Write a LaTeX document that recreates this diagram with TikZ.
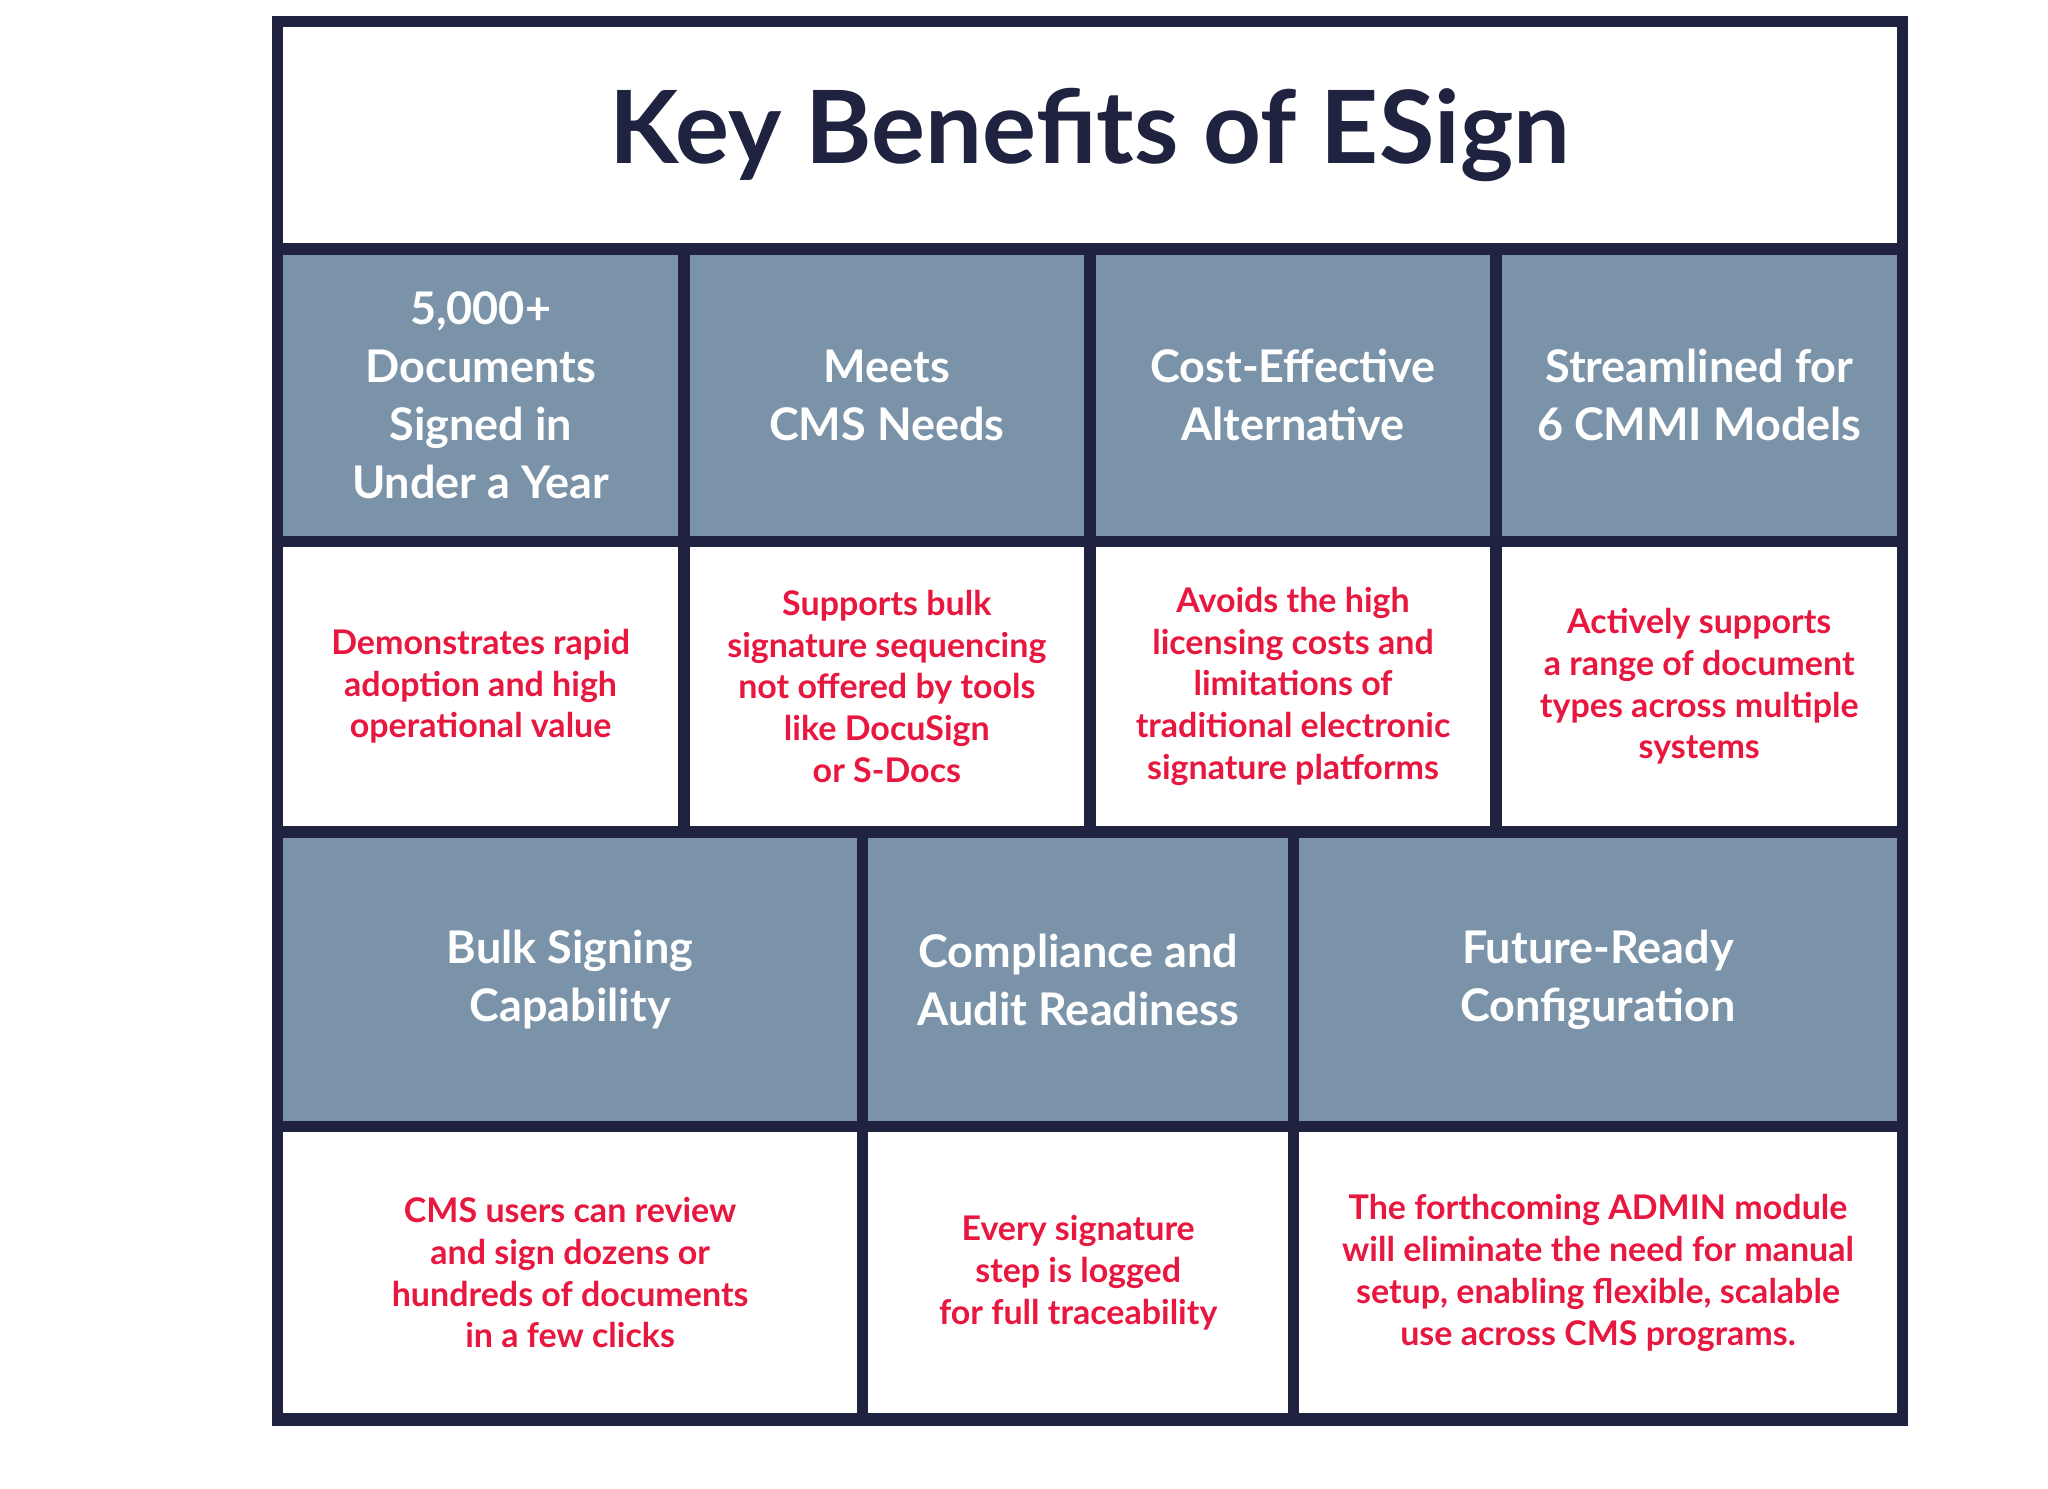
\documentclass[tikz,border=0pt]{standalone}
\usepackage{fontspec}
\setmainfont{Lato}
\definecolor{navy}{HTML}{1F2340}
\definecolor{steel}{HTML}{7B93A9}
\definecolor{accent}{HTML}{E8173F}
\begin{document}
\begin{tikzpicture}[x=0.01cm,y=-0.01cm,
  hd/.style={fill=steel,inner sep=0,align=center,text=white,font=\fontsize{9.8}{12.6}\selectfont\bfseries},
  bd/.style={fill=white,inner sep=0,align=center,text=accent,font=\fontsize{7.4}{9.1}\selectfont\bfseries}]
\useasboundingbox (0,0) rectangle (1568,1140);
\fill[navy] (208,12) rectangle (1461,1092);
\node[fill=white,inner sep=0,minimum width=12.35cm,minimum height=1.65cm,font=\fontsize{22}{26}\selectfont\bfseries,text=navy] (title) at (834.5,103.5) {Key Benefits of ESign};
% row 1 headers
\node[hd,minimum width=3.02cm,minimum height=2.15cm] (h1) at (368,302.5) {5,000+\\Documents\\Signed in\\Under a Year};
\node[hd,minimum width=3.02cm,minimum height=2.15cm] (h2) at (679,302.5) {Meets\\CMS Needs};
\node[hd,minimum width=3.02cm,minimum height=2.15cm] (h3) at (990,302.5) {Cost-Effective\\Alternative};
\node[hd,minimum width=3.02cm,minimum height=2.15cm] (h4) at (1301,302.5) {Streamlined for\\6 CMMI Models};
% row 1 bodies
\node[bd,minimum width=3.02cm,minimum height=2.13cm] (b1) at (368,525.5) {Demonstrates rapid\\adoption and high\\operational value};
\node[bd,minimum width=3.02cm,minimum height=2.13cm] (b2) at (679,525.5) {Supports bulk\\signature sequencing\\not offered by tools\\like DocuSign\\or S-Docs};
\node[bd,minimum width=3.02cm,minimum height=2.13cm] (b3) at (990,525.5) {Avoids the high\\licensing costs and\\limitations of\\traditional electronic\\signature platforms};
\node[bd,minimum width=3.02cm,minimum height=2.13cm] (b4) at (1301,525.5) {Actively supports\\a range of document\\types across multiple\\systems};
% row 2 headers
\node[hd,minimum width=4.39cm,minimum height=2.16cm] (h5) at (436.5,750) {Bulk Signing\\Capability};
\node[hd,minimum width=3.21cm,minimum height=2.16cm] (h6) at (825.5,750) {Compliance and\\Audit Readiness};
\node[hd,minimum width=4.57cm,minimum height=2.16cm] (h7) at (1223.5,750) {Future-Ready\\Configuration};
% row 2 bodies
\node[bd,minimum width=4.39cm,minimum height=2.15cm] (b5) at (436.5,974.5) {CMS users can review\\and sign dozens or\\hundreds of documents\\in a few clicks};
\node[bd,minimum width=3.21cm,minimum height=2.15cm] (b6) at (825.5,974.5) {Every signature\\step is logged\\for full traceability};
\node[bd,minimum width=4.57cm,minimum height=2.15cm] (b7) at (1223.5,974.5) {The forthcoming ADMIN module\\will eliminate the need for manual\\setup, enabling flexible, scalable\\use across CMS programs.};
\end{tikzpicture}
\end{document}
